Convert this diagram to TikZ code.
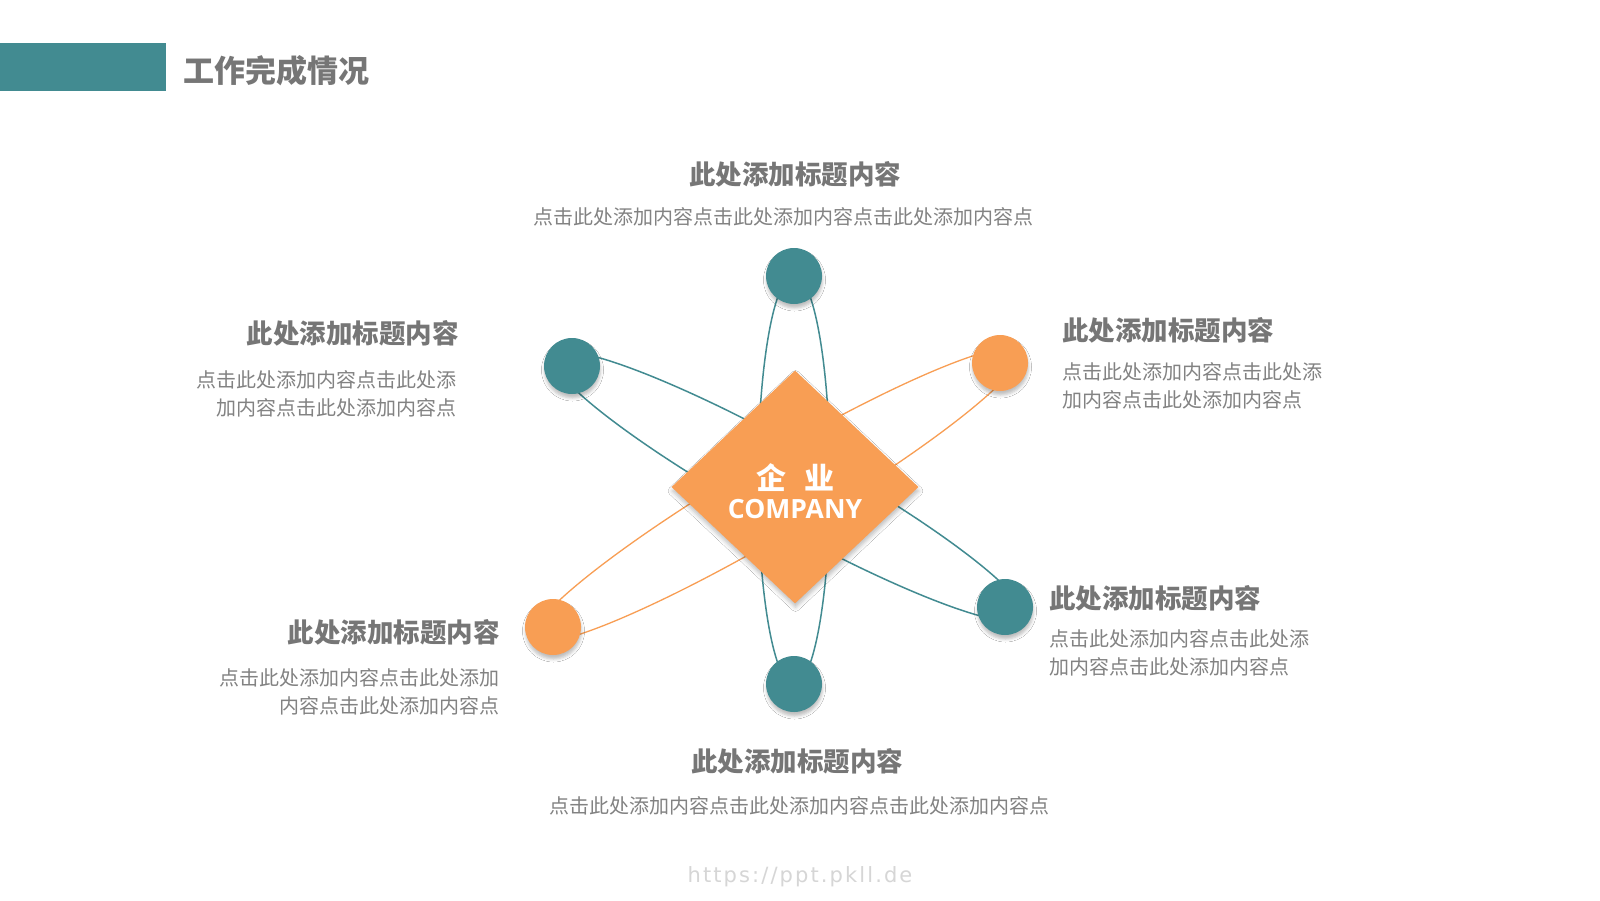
\documentclass[tikz,border=0pt]{standalone}
\usepackage{fontspec}
\newfontfamily\cjk{Noto Sans CJK SC}
\newfontfamily\latin{Open Sans}
\newfontfamily\markfont[LetterSpace=10]{DejaVu Sans}
\usetikzlibrary{shapes.geometric,shadows.blur,calc,backgrounds,positioning}

\definecolor{tealc}{RGB}{66,139,145}
\definecolor{orangec}{RGB}{248,158,84}
\definecolor{headgray}{RGB}{118,118,118}
\definecolor{textgray}{RGB}{130,130,130}
\definecolor{markgray}{RGB}{214,214,214}

\tikzset{
  planet/.style={circle, minimum size=56pt, inner sep=0pt,
    blur shadow={shadow xshift=0.5pt, shadow yshift=-4pt, shadow blur radius=3pt, shadow opacity=25}},
  hub/.style={diamond, fill=orangec, minimum width=247pt, minimum height=233pt, inner sep=0pt,
    blur shadow={shadow xshift=0.5pt, shadow yshift=-4pt, shadow blur radius=4pt, shadow opacity=25}},
  tealorbit/.style={draw=tealc, line width=1.5pt},
  orangeorbit/.style={draw=orangec, line width=1.3pt},
  head/.style={text=headgray, font=\cjk\bfseries\fontsize{26.5}{30}\selectfont, inner sep=0pt},
  desc/.style={text=textgray, font=\cjk\fontsize{20}{27.5}\selectfont, inner sep=0pt},
}

\begin{document}
\begin{tikzpicture}[x=1pt, y=-1pt]
\useasboundingbox (0,0) rectangle (1600,900);
% header
\fill[tealc] (0,43) rectangle (166,91);
\node[anchor=west, inner sep=0pt, text=headgray, font=\cjk\bfseries\fontsize{31}{34}\selectfont] (pagetitle) at (183,71) {工作完成情况};
% centre and planets
\node[hub] (hub) at (795,487) {};
\node[planet, fill=tealc] (top) at (794,276) {};
\node[planet, fill=tealc] (bot) at (794,684) {};
\node[planet, fill=tealc] (tl) at (572,366) {};
\node[planet, fill=tealc] (br) at (1005,607) {};
\node[planet, fill=orangec] (tr) at (1000,363) {};
\node[planet, fill=orangec] (bl) at (553,627) {};
\node[text=white, inner sep=0pt, font=\cjk\bfseries\fontsize{30}{32}\selectfont] (hubcn) at (795,478) {企\hspace{18pt}业};
\node[text=white, inner sep=0pt, font=\latin\bfseries\fontsize{26.5}{30}\selectfont] (huben) at (795,509) {COMPANY};
% orbits behind everything
\begin{scope}[on background layer]
\fill[white] (0,0) rectangle (1600,900);
\draw[tealorbit] let \p1=($(top)!0.5!(bot)$), \p2=($(bot)-(top)$), \n1={atan2(\y2,\x2)}, \n2={veclen(\x2,\y2)/2+1} in (\p1) ellipse [x radius=\n2, y radius=36pt, rotate=\n1];
\draw[tealorbit] let \p1=($(tl)!0.5!(br)$), \p2=($(br)-(tl)$), \n1={atan2(\y2,\x2)}, \n2={veclen(\x2,\y2)/2+20} in (\p1) ellipse [x radius=\n2, y radius=39pt, rotate=\n1];
\draw[orangeorbit] let \p1=($(bl)!0.5!(tr)$), \p2=($(tr)-(bl)$), \n1={atan2(\y2,\x2)}, \n2={veclen(\x2,\y2)/2+22} in (\p1) ellipse [x radius=\n2, y radius=38pt, rotate=\n1];
\end{scope}
% labels
\node[head] (toph) at (795,174) {此处添加标题内容};
\node[desc] (topd) at (783,217) {点击此处添加内容点击此处添加内容点击此处添加内容点};
\node[head, anchor=east] (tlh) at (459,333) {此处添加标题内容};
\node[desc, anchor=east, align=right] (tld) at (457,394) {点击此处添加内容点击此处添\\加内容点击此处添加内容点};
\node[head, anchor=west] (trh) at (1062,330) {此处添加标题内容};
\node[desc, anchor=west, align=left] (trd) at (1062,386) {点击此处添加内容点击此处添\\加内容点击此处添加内容点};
\node[head, anchor=west] (brh) at (1049,598) {此处添加标题内容};
\node[desc, anchor=west, align=left] (brd) at (1049,653) {点击此处添加内容点击此处添\\加内容点击此处添加内容点};
\node[head, anchor=east] (blh) at (500,632) {此处添加标题内容};
\node[desc, anchor=east, align=right] (bld) at (500,692) {点击此处添加内容点击此处添加\\内容点击此处添加内容点};
\node[head] (both) at (797,761) {此处添加标题内容};
\node[desc] (botd) at (799,806) {点击此处添加内容点击此处添加内容点击此处添加内容点};
% watermark
\node[text=markgray, inner sep=0pt, font=\markfont\fontsize{21}{23}\selectfont] (mark) at (800,877) {https://ppt.pkll.de};
\end{tikzpicture}
\end{document}
